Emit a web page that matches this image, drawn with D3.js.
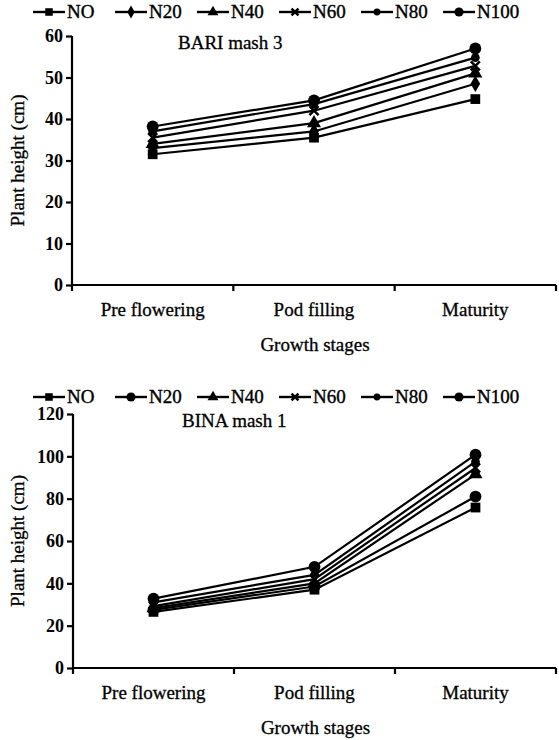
<!DOCTYPE html>
<html>
<head>
<meta charset="utf-8">
<script src="https://cdn.jsdelivr.net/npm/d3@7"></script>
<style>
  body { margin: 0; background: #fff; }
  text { font-family: "Liberation Serif", "DejaVu Serif", serif; fill: #000; }
</style>
</head>
<body>
<div id="chart"></div>
<script>
let width = 559, height = 740

// DATA
let stages = ['Pre flowering', 'Pod filling', 'Maturity']
let series = ['NO', 'N20', 'N40', 'N60', 'N80', 'N100']

// BARI mash 3 (top)
let bariNO   = [31.5, 35.5, 44.8]
let bariN20  = [33.0, 37.0, 48.5]
let bariN40  = [34.0, 39.0, 51.0]
let bariN60  = [35.5, 42.0, 52.8]
let bariN80  = [37.0, 43.6, 54.8]
let bariN100 = [38.2, 44.5, 57.0]
let bariTicks = [0, 10, 20, 30, 40, 50, 60]

// BINA mash 1 (bottom)
let binaNO   = [26.5, 37.0, 75.8]
let binaN20  = [27.5, 38.5, 81.0]
let binaN40  = [28.3, 40.0, 91.5]
let binaN60  = [29.2, 42.0, 94.5]
let binaN80  = [31.0, 44.0, 97.5]
let binaN100 = [32.8, 47.8, 100.8]
let binaTicks = [0, 20, 40, 60, 80, 100, 120]

let svg = d3.select('#chart')
  .append('svg')
  .attr('width', width)
  .attr('height', height)

function marker(type, s) {
  if (type == 'square') return d3.symbol().type(d3.symbolSquare).size(95 * s)()
  if (type == 'diamond') return d3.symbol().type(d3.symbolDiamond).size(80 * s)()
  if (type == 'triangle') return d3.symbol().type(d3.symbolTriangle).size(85 * s)()
  if (type == 'times') return d3.symbol().type(d3.symbolTimes).size(55 * s)()
  if (type == 'small') return d3.symbol().type(d3.symbolCircle).size(60 * s)()
  return d3.symbol().type(d3.symbolCircle).size(110 * s)()
}

function drawMarker(g, type, x, y, s) {
  let p = g.append('path')
    .attr('d', marker(type, s || 1))
    .attr('transform', 'translate(' + x + ',' + y + ')')
  if (type == 'times') {
    p.attr('fill', 'none').attr('stroke', '#000').attr('stroke-width', 2.5)
  } else {
    p.attr('fill', '#000')
  }
}

function drawChart(cfg) {
  let x = d3.scaleBand()
    .domain(stages)
    .range([cfg.left, cfg.right])

  let y = d3.scaleLinear()
    .domain([0, cfg.max])
    .range([cfg.bottom, cfg.top])

  let g = svg.append('g')

  // legend
  series.forEach(function (s, i) {
    let lx = 33 + i * 82
    let lg = g.append('g')
    lg.append('line')
      .attr('x1', lx).attr('x2', lx + 32)
      .attr('y1', cfg.legendY).attr('y2', cfg.legendY)
      .attr('stroke', '#000').attr('stroke-width', 2.4)
    drawMarker(lg, cfg.symbols[i], lx + 16, cfg.legendY, 0.6)
    lg.append('text')
      .attr('x', lx + 34)
      .attr('y', cfg.legendY + 6)
      .style('font-size', '19px')
      .style('stroke', '#000')
      .style('stroke-width', 0.4)
      .text(s)
  })

  // y axis
  let yAxis = g.append('g')
    .attr('transform', 'translate(' + cfg.left + ',0)')
    .call(d3.axisLeft(y).tickValues(cfg.ticks).tickSize(6).tickPadding(3))
  yAxis.select('.domain')
    .attr('d', 'M0,' + (cfg.bottom + 6) + 'V' + cfg.top)
    .attr('stroke-width', 2.2)
  yAxis.selectAll('.tick line').attr('stroke-width', 2.2)
  yAxis.selectAll('.tick text')
    .style('font-size', '18px')
    .style('font-weight', 'bold')
    .style('font-family', '"Liberation Serif", serif')

  // x axis
  let edges = stages.map(function (s) { return x(s) }).concat([cfg.right])
  g.append('line')
    .attr('x1', cfg.left).attr('x2', cfg.right)
    .attr('y1', cfg.bottom).attr('y2', cfg.bottom)
    .attr('stroke', '#000').attr('stroke-width', 2.2)
  g.selectAll('.xtick')
    .data(edges.slice(1))
    .enter().append('line')
      .attr('class', 'xtick')
      .attr('x1', function (d) { return d }).attr('x2', function (d) { return d })
      .attr('y1', cfg.bottom).attr('y2', cfg.bottom + 6)
      .attr('stroke', '#000').attr('stroke-width', 2.2)
  g.selectAll('.xlabel')
    .data(stages)
    .enter().append('text')
      .attr('class', 'xlabel')
      .attr('x', function (d) { return x(d) + x.bandwidth() / 2 })
      .attr('y', cfg.bottom + 31)
      .attr('text-anchor', 'middle')
      .style('font-size', '19px')
      .style('stroke', '#000')
      .style('stroke-width', 0.3)
      .text(function (d) { return d })

  g.append('text')
    .attr('x', (cfg.left + cfg.right) / 2 + 1)
    .attr('y', cfg.bottom + 66)
    .attr('text-anchor', 'middle')
    .style('font-size', '19px')
    .style('stroke', '#000')
    .style('stroke-width', 0.3)
    .text('Growth stages')

  g.append('text')
    .attr('transform', 'translate(24,' + ((cfg.top + cfg.bottom) / 2) + ') rotate(-90)')
    .attr('text-anchor', 'middle')
    .style('font-size', '19px')
    .style('stroke', '#000')
    .style('stroke-width', 0.3)
    .text('Plant height (cm)')

  g.append('text')
    .attr('x', cfg.titleX)
    .attr('y', cfg.top + 13)
    .style('font-size', '19px')
    .style('stroke', '#000')
    .style('stroke-width', 0.3)
    .text(cfg.title)

  // lines + markers
  let line = d3.line()
    .x(function (d, i) { return x(stages[i]) + x.bandwidth() / 2 })
    .y(function (d) { return y(d) })

  cfg.values.forEach(function (vals, k) {
    g.append('path')
      .attr('d', line(vals))
      .attr('fill', 'none')
      .attr('stroke', '#000')
      .attr('stroke-width', 2.2)
    vals.forEach(function (v, i) {
      drawMarker(g, cfg.symbols[k], x(stages[i]) + x.bandwidth() / 2, y(v))
    })
  })
}

drawChart({
  title: 'BARI mash 3',
  titleX: 178,
  values: [bariNO, bariN20, bariN40, bariN60, bariN80, bariN100],
  ticks: bariTicks,
  max: 60,
  symbols: ['square', 'diamond', 'triangle', 'times', 'small', 'circle'],
  left: 72, right: 556, top: 36, bottom: 285,
  legendY: 12
})

drawChart({
  title: 'BINA mash 1',
  titleX: 182,
  values: [binaNO, binaN20, binaN40, binaN60, binaN80, binaN100],
  ticks: binaTicks,
  max: 120,
  symbols: ['square', 'circle', 'triangle', 'times', 'small', 'circle'],
  left: 73, right: 556, top: 414, bottom: 668,
  legendY: 397
})
</script>
</body>
</html>
